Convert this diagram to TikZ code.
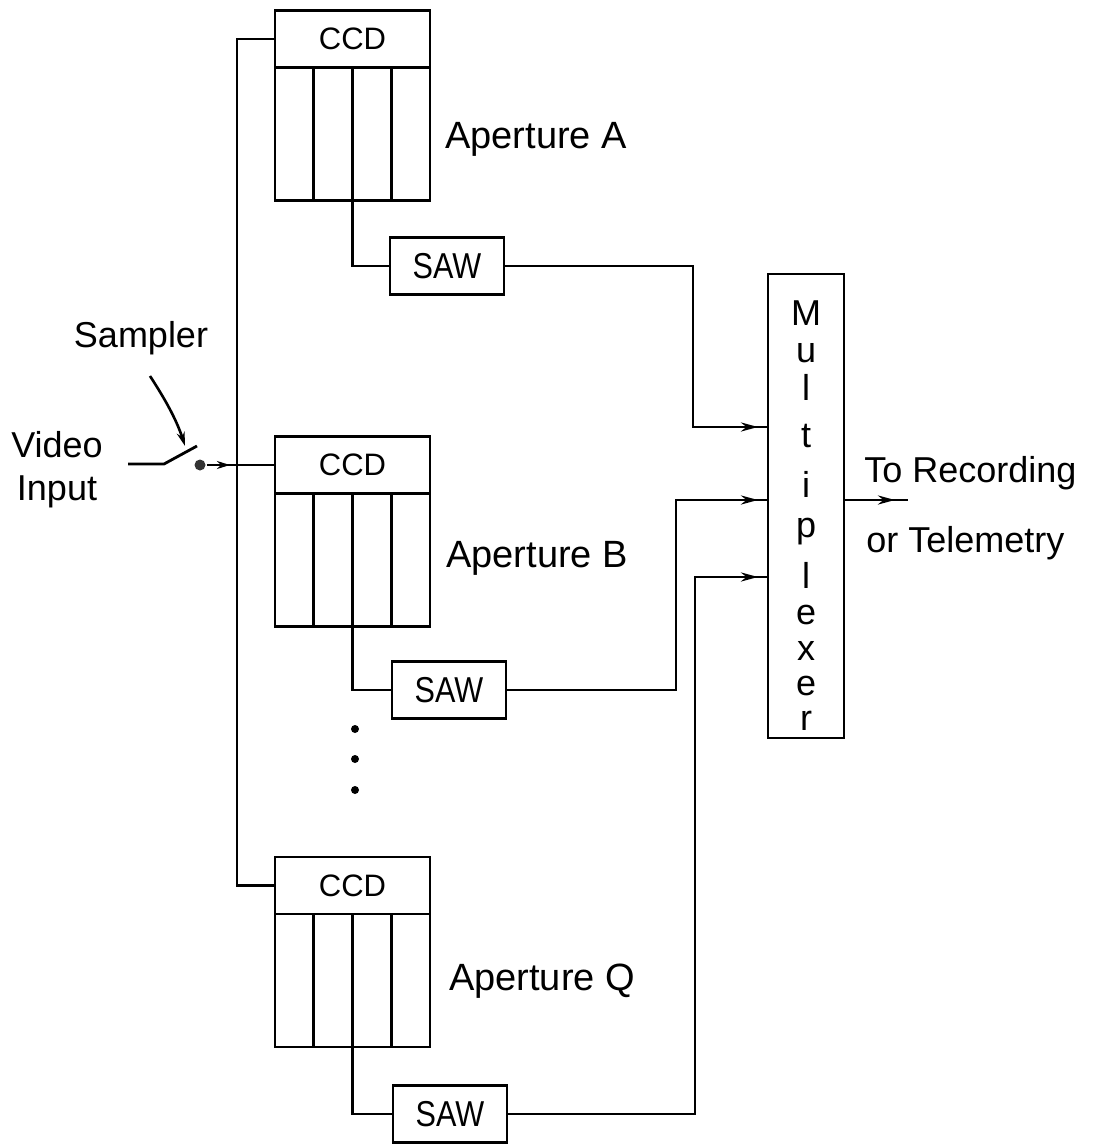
\documentclass[tikz,border=0pt]{standalone}
\usepackage{fontspec}
\setmainfont{Liberation Sans}
\newfontfamily\narrowfont[FakeStretch=0.85]{Liberation Sans}
\usetikzlibrary{arrows.meta,decorations.markings,calc}
\begin{document}
\begin{tikzpicture}[x=1pt,y=-1pt,line width=2.8pt,
  box/.style={draw,line width=2.8pt,inner sep=0pt,outer sep=0pt,anchor=center},
  hdr/.style={box,minimum width=155pt,minimum height=57pt,font=\fontsize{31}{31}\selectfont},
  body/.style={box,anchor=north,minimum width=155pt,minimum height=133pt},
  sawbox/.style={box,minimum width=114pt,minimum height=57pt,font=\narrowfont\fontsize{36}{36}\selectfont},
  lbl/.style={inner sep=0pt,font=\fontsize{36}{43}\selectfont},
  aplbl/.style={lbl,anchor=base,font=\fontsize{38}{43}\selectfont},
  mlet/.style={inner sep=0pt,anchor=base,font=\fontsize{36}{36}\selectfont},
  dotmark/.style={circle,fill=black,inner sep=0pt,minimum size=8pt},
  contact/.style={circle,fill=black!80,inner sep=0pt,minimum size=11pt},
  arrowin/.style={postaction={decorate},decoration={markings,mark=at position -10pt with {\arrow{Stealth[length=17pt,width=9pt]}}}},
  arrowout/.style={postaction={decorate},decoration={markings,mark=at position -13pt with {\arrow{Stealth[length=17pt,width=9pt]}}}},
  arrowsw/.style={postaction={decorate},decoration={markings,mark=at position 23pt with {\arrow{Stealth[length=13pt,width=8pt]}}}}
]
\useasboundingbox (0,0) rectangle (1093,1145);

% CCD blocks
\node[hdr] (ccdA) at (352.5,39) {CCD};
\node[body] (bodyA) at (ccdA.south) {};
\node[hdr] (ccdB) at (352.5,465) {CCD};
\node[body] (bodyB) at (ccdB.south) {};
\node[hdr] (ccdQ) at (352.5,885.5) {CCD};
\node[body] (bodyQ) at (ccdQ.south) {};
\foreach \b in {bodyA,bodyB,bodyQ}{
  \foreach \i in {1,2,3}{
    \draw ($(\b.north west)!\i/4!(\b.north east)$) -- ($(\b.south west)!\i/4!(\b.south east)$);
  }
}

% labels
\node[aplbl] (apA) at (536,149) {Aperture A};
\node[aplbl] (apB) at (537,567) {Aperture B};
\node[aplbl] (apQ) at (542,990) {Aperture Q};

% SAW blocks
\node[sawbox] (sawA) at (447,266) {SAW};
\node[sawbox] (sawB) at (449,690) {SAW};
\node[sawbox] (sawQ) at (450,1114) {SAW};

% multiplexer
\node[box,minimum width=76pt,minimum height=464pt] (mux) at (806,506) {};
\node[mlet] (m1) at (806,325) {M};
\node[mlet] (m2) at (806,362) {u};
\node[mlet] (m3) at (806,400) {l};
\node[mlet] (m4) at (806,447) {t};
\node[mlet] (m5) at (806,497) {i};
\node[mlet] (m6) at (806,537) {p};
\node[mlet] (m7) at (806,588) {l};
\node[mlet] (m8) at (806,624) {e};
\node[mlet] (m9) at (806,660) {x};
\node[mlet] (m10) at (806,695) {e};
\node[mlet] (m11) at (806,730) {r};

% bus
\coordinate (bus) at (237,500);
\draw (ccdA.west) -- (ccdA.west -| bus) -- (ccdQ.west -| bus) -- (ccdQ.west);

% stems to SAW
\draw (bodyA.south) |- (sawA.west);
\draw (bodyB.south) |- (sawB.west);
\draw (bodyQ.south) |- (sawQ.west);

% SAW to multiplexer
\coordinate (jA) at (693,427);
\coordinate (jB) at (676,500);
\coordinate (jQ) at (695,577);
\draw[arrowin] (sawA.east) -| (jA) -- (jA -| mux.west);
\draw[arrowin] (sawB.east) -| (jB) -- (jB -| mux.west);
\draw[arrowin] (sawQ.east) -| (jQ) -- (jQ -| mux.west);

% output
\coordinate (out) at (908,500);
\draw[arrowout] (mux.east |- out) -- (out);
\node[lbl,anchor=base west] (rec) at (863,482) {To Recording};
\node[lbl,anchor=base west] (tel) at (865,552) {or Telemetry};

% dots
\node[dotmark] (d1) at (355,729) {};
\node[dotmark] (d2) at (355,759) {};
\node[dotmark] (d3) at (355,790) {};

% video input and sampler
\node[lbl,align=center,anchor=base] (vid) at (57,500) {Video\\Input};
\node[lbl,anchor=base] (samp) at (141,347) {Sampler};
\coordinate (vin) at (128,464);
\coordinate (swa) at (164,464);
\coordinate (swb) at (197,446);
\node[contact] (cont) at (200,465) {};
\draw (vin) -- (swa) -- (swb);
\draw[line width=2.4pt,arrowsw] (cont) -- (ccdB.west);
\coordinate (sArrS) at (150,376);
\coordinate (sArrE) at (185,446);
\draw[line width=2.6pt,-{Stealth[length=14pt,width=8pt]}] (sArrS) .. controls (163,396) and (176,418) .. (sArrE);
\end{tikzpicture}
\end{document}
